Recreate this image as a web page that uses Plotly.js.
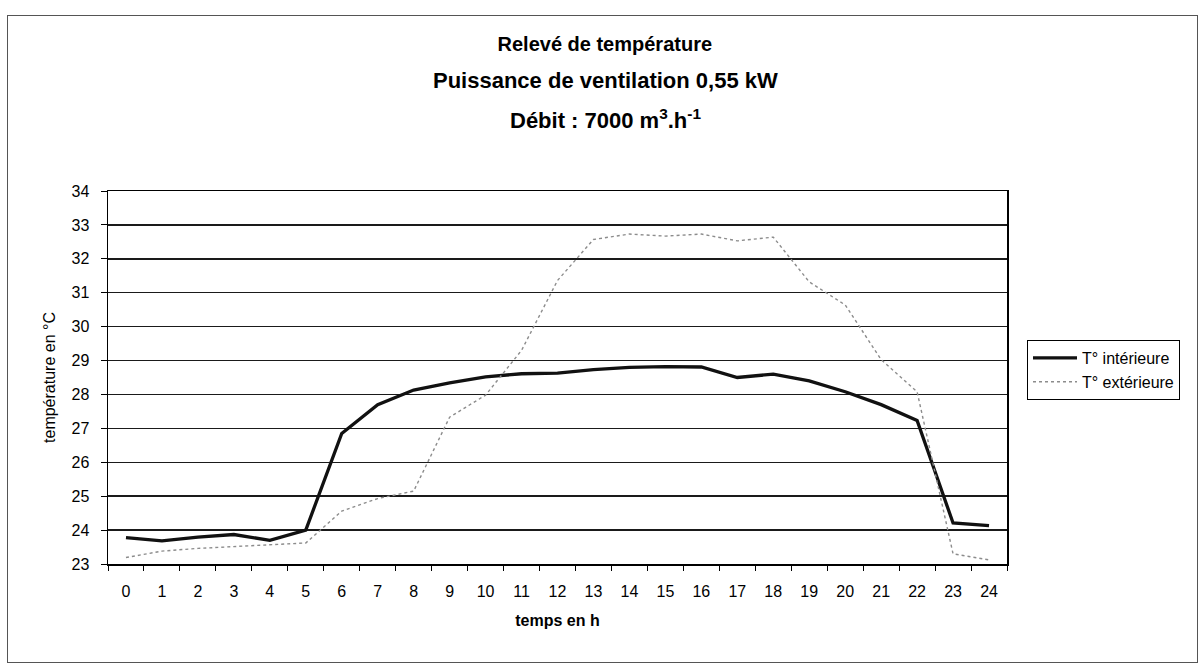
<!DOCTYPE html>
<html>
<head>
<meta charset="utf-8">
<script src="https://cdn.plot.ly/plotly-3.0.1.min.js"></script>
<style>
  html, body { margin: 0; padding: 0; background: #fff; }
  #wrap { position: relative; width: 1200px; height: 666px; }
  #chart { position: absolute; left: 0; top: 0; width: 1200px; height: 666px; }
  #frame { position: absolute; left: 7px; top: 15px; width: 1189px; height: 646px;
           border: 1px solid #555; pointer-events: none; }
</style>
</head>
<body>
<div id="wrap">
  <div id="chart"></div>
  <div id="frame"></div>
</div>
<script>
// Hours (category labels)
const hours = ["0","1","2","3","4","5","6","7","8","9","10","11","12",
               "13","14","15","16","17","18","19","20","21","22","23","24"];

// T° intérieure (°C)
const tInterieure = [23.78, 23.68, 23.79, 23.87, 23.70, 24.00, 26.85, 27.70, 28.13, 28.34,
                     28.52, 28.61, 28.63, 28.73, 28.80, 28.82, 28.81, 28.50, 28.60, 28.40,
                     28.08, 27.70, 27.23, 24.21, 24.13];

// T° extérieure (°C)
const tExterieure = [23.19, 23.38, 23.46, 23.51, 23.55, 23.62, 24.56, 24.93, 25.15, 27.33,
                     27.98, 29.30, 31.36, 32.57, 32.73, 32.67, 32.73, 32.53, 32.64, 31.32,
                     30.64, 29.03, 28.08, 23.30, 23.12];

const seriesNames = ["T° intérieure", "T° extérieure"];
const titleLines = ["Relevé de température",
                    "Puissance de ventilation 0,55 kW",
                    "Débit : 7000 m<sup>3</sup>.h<sup>-1</sup>"];

const FONT = "Liberation Sans, Arial, sans-serif";

const traces = [
  {
    x: hours, y: tInterieure, type: "scatter", mode: "lines",
    name: seriesNames[0], legendgroup: "a",
    line: { color: "#111", width: 3.3 }
  },
  {
    x: hours, y: tExterieure, type: "scatter", mode: "lines",
    name: seriesNames[1], legendgroup: "b",
    line: { color: "#8c8c8c", width: 1.4, dash: "dot" }
  }
];

const layout = {
  width: 1200, height: 666, autosize: false,
  paper_bgcolor: "#fff", plot_bgcolor: "#fff",
  margin: { l: 108, r: 193, t: 191, b: 102 },
  font: { family: FONT, color: "#000", size: 16 },
  title: {
    text: "<b>" + titleLines[0] + "</b>",
    font: { family: FONT, size: 20, color: "#000" },
    x: 0.504, xanchor: "center", xref: "container",
    y: 1 - 44 / 666, yanchor: "middle", yref: "container"
  },
  annotations: [
    { text: "<b>" + titleLines[1] + "</b>", xref: "paper", yref: "paper",
      x: (605 - 108) / 899, y: (564 - 80) / 373, xanchor: "center", yanchor: "middle",
      showarrow: false, font: { family: FONT, size: 22, color: "#000" } },
    { text: "<b>" + titleLines[2] + "</b>", xref: "paper", yref: "paper",
      x: (605 - 108) / 899, y: (564 - 119) / 373, xanchor: "center", yanchor: "middle",
      showarrow: false, font: { family: FONT, size: 22, color: "#000" } }
  ],
  xaxis: {
    type: "category",
    range: [-0.5, 24.5],
    showgrid: false, zeroline: false,
    showline: true, linecolor: "#000", linewidth: 1.5, mirror: true,
    ticks: "outside", tickson: "boundaries", ticklen: 5, tickcolor: "#000", tickwidth: 1,
    ticklabelstandoff: 12,
    tickfont: { family: FONT, size: 16, color: "#000" },
    title: { text: "<b>temps en h</b>", font: { family: FONT, size: 16, color: "#000" }, standoff: 16 }
  },
  yaxis: {
    range: [23, 34], dtick: 1, tick0: 23,
    showgrid: true, gridcolor: "#1a1a1a", gridwidth: 1.5,
    zeroline: false,
    showline: true, linecolor: "#000", linewidth: 1.5, mirror: true,
    ticks: "outside", ticklen: 6, tickcolor: "#000", tickwidth: 1,
    ticklabelstandoff: 8,
    tickfont: { family: FONT, size: 16, color: "#000" },
    title: { text: "température en °C", font: { family: FONT, size: 16, color: "#000" }, standoff: 12 }
  },
  showlegend: true,
  legend: {
    x: (1027 - 108) / 899, xanchor: "left",
    y: (564 - 340) / 373, yanchor: "top",
    bordercolor: "#000", borderwidth: 1, bgcolor: "#fff",
    font: { family: FONT, size: 16, color: "#000" },
    traceorder: "normal", tracegroupgap: 12, itemwidth: 44
  }
};

Plotly.newPlot("chart", traces, layout, { displayModeBar: false, staticPlot: true });
</script>
</body>
</html>
